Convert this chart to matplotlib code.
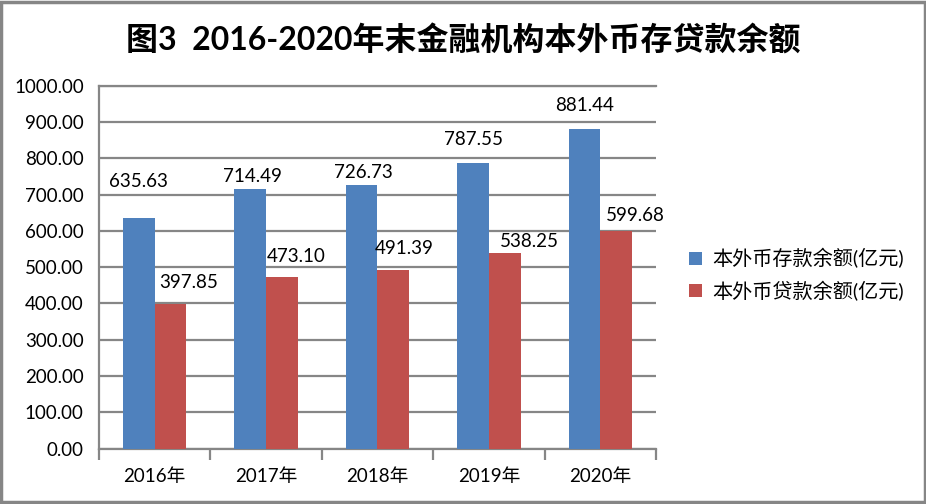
import numpy as np
import matplotlib
matplotlib.use("Agg")
import matplotlib.pyplot as plt
from matplotlib.patches import Rectangle

categories = ["2016年", "2017年", "2018年", "2019年", "2020年"]
deposits = [635.63, 714.49, 726.73, 787.55, 881.44]
loans = [397.85, 473.10, 491.39, 538.25, 599.68]
series_names = ["本外币存款余额(亿元)", "本外币贷款余额(亿元)"]
title = "图3  2016-2020年末金融机构本外币存贷款余额"
yticks = [0, 100, 200, 300, 400, 500, 600, 700, 800, 900, 1000]

# label offsets (pixels) relative to bar top-centre
dep_dx = [0, 2, 2, 0, 0]
dep_dy = [36, 13, 12, 23, 23]
loan_dx = [18, 14, 11, 25, 19]
loan_dy = [22, 20, 22, 12, 16]

FAM = ["Lato", "Noto Sans CJK SC", "DejaVu Sans"]
plt.rcParams["font.family"] = FAM

BLUE = "#4F81BD"
RED = "#C0504D"
GRID = "#868686"

fig = plt.figure(figsize=(9.26, 5.04), dpi=100)
ax = fig.add_axes([0.1069, 0.1097, 0.6015, 0.7203])

x = np.arange(len(categories))
w = 0.285
b1 = ax.bar(x - w / 2, deposits, w, color=BLUE, label=series_names[0], zorder=3)
b2 = ax.bar(x + w / 2, loans, w, color=RED, label=series_names[1], zorder=3)

for rect, v, dx, dy in zip(b1, deposits, dep_dx, dep_dy):
    ax.annotate(f"{v:.2f}", (rect.get_x() + rect.get_width() / 2, v),
                xytext=(dx, dy), textcoords="offset pixels",
                ha="center", va="center", fontsize=13.5, color="black", zorder=4)
for rect, v, dx, dy in zip(b2, loans, loan_dx, loan_dy):
    ax.annotate(f"{v:.2f}", (rect.get_x() + rect.get_width() / 2, v),
                xytext=(dx, dy), textcoords="offset pixels",
                ha="center", va="center", fontsize=13.5, color="black", zorder=4)

ax.set_xlim(-0.5, len(categories) - 0.5)
ax.set_ylim(0, 1000)
ax.set_yticks(yticks)
ax.set_yticklabels([f"{t:.2f}" for t in yticks], fontsize=13.5)
ax.yaxis.grid(True, color=GRID, linewidth=1.6, zorder=0)
ax.tick_params(axis="y", length=0, pad=11)

ax.set_xticks(np.arange(-0.5, len(categories), 1.0))
ax.set_xticklabels([])
ax.set_xticks(x, minor=True)
ax.set_xticklabels(categories, minor=True, fontsize=13.5)
ax.tick_params(axis="x", which="major", length=8, width=1.6, color=GRID)
ax.tick_params(axis="x", which="minor", length=0, pad=14)

ax.spines["right"].set_visible(False)
for s in ["top", "left", "bottom"]:
    ax.spines[s].set_color(GRID)
    ax.spines[s].set_linewidth(1.6)

fig.text(0.5, 0.921, title, ha="center", va="center", fontsize=23,
         fontweight="bold", family=FAM)

leg = fig.legend(handles=[b1, b2], loc="center left",
                 bbox_to_anchor=(0.725, 0.455), frameon=False,
                 fontsize=14.5, handlelength=0.6, handleheight=0.6,
                 handletextpad=0.55, labelspacing=0.6)

fig.patches.append(Rectangle((0.0015, 0.003), 0.997, 0.994, transform=fig.transFigure,
                             fill=False, edgecolor=GRID, linewidth=2.5))

fig.savefig("out.png", dpi=100)
